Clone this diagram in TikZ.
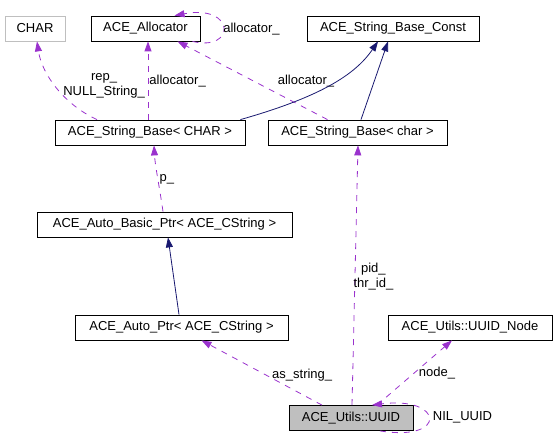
\documentclass[tikz,border=0pt]{standalone}
\usepackage{fontspec}
\setmainfont{Liberation Sans}
\usepackage{tikz}
\usetikzlibrary{arrows.meta, positioning, calc}
\definecolor{usecol}{HTML}{9A32CD}
\definecolor{inhcol}{HTML}{191970}
\definecolor{boxgray}{HTML}{BFBFBF}

\begin{document}
\begin{tikzpicture}[>={Triangle[length=10pt,width=7pt]}, x=1pt, y=-1pt,
  font=\fontsize{13}{15}\selectfont,
  box/.style={draw, line width=0.8pt, minimum height=25pt, inner sep=0pt},
  uses/.style={->, usecol, line width=0.8pt, dash pattern=on 6pt off 6pt},
  inherits/.style={->, inhcol, line width=0.8pt},
  lbl/.style={inner sep=0pt, align=center, text=black}]
  \useasboundingbox (0,0) rectangle (556,444);

  % Nodes
  \node[box, draw=boxgray, minimum width=60pt] (char) at (35,28.5) {CHAR};
  \node[box, minimum width=109pt] (alloc) at (145.5,28.5) {ACE\_Allocator};
  \node[box, minimum width=172pt] (sbconst) at (393,28.5) {ACE\_String\_Base\_Const};
  \node[box, minimum width=190pt] (sbCHAR) at (150,132.5) {ACE\_String\_Base< CHAR >};
  \node[box, minimum width=179pt] (sbchar) at (357.5,132.5) {ACE\_String\_Base< char >};
  \node[box, minimum width=255pt] (abptr) at (164.5,224.5) {ACE\_Auto\_Basic\_Ptr< ACE\_CString >};
  \node[box, minimum width=213pt] (aptr) at (181.5,327.5) {ACE\_Auto\_Ptr< ACE\_CString >};
  \node[box, minimum width=164pt] (unode) at (470,327.5) {ACE\_Utils::UUID\_Node};
  \node[box, fill=boxgray, minimum width=124pt] (uuid) at (351,418) {ACE\_Utils::UUID};

  % Usage arrows (dashed)
  \draw[uses] ([xshift=-53pt]sbCHAR.north) .. controls (65,105) and (42,75) .. ([xshift=2pt]char.south)
    node[lbl, pos=0.3, above right, xshift=-8pt, yshift=4pt] {rep\_\\NULL\_String\_};
  \draw[uses] ([xshift=-2pt]sbCHAR.north) -- ([xshift=2.5pt]alloc.south)
    node[lbl, midway, right, xshift=1pt, yshift=-1pt] {allocator\_};
  \draw[uses] ([xshift=47pt]alloc.south) .. controls (236,52) and (236,4) .. ([xshift=29pt]alloc.north)
    node[lbl, pos=0.5, right, xshift=0pt, yshift=-1pt] {allocator\_};
  \draw[uses] ([xshift=-30pt]sbchar.north) -- ([xshift=32pt]alloc.south)
    node[lbl, pos=0.15, above, yshift=20pt, xshift=1pt] {allocator\_};
  \draw[uses] ([xshift=-1.5pt]abptr.north) .. controls (160,190) and (155,165) .. ([xshift=4pt]sbCHAR.south)
    node[lbl, pos=0.45, right, xshift=1pt, yshift=2pt] {p\_};
  \draw[uses] ([xshift=-29pt]uuid.north) -- ([xshift=20pt]aptr.south)
    node[lbl, pos=0.45, above right, xshift=4pt, yshift=-6pt] {as\_string\_};
  \draw[uses] ([xshift=1pt]uuid.north) -- ([xshift=0.5pt]sbchar.south)
    node[lbl, pos=0.52, right, xshift=-2pt, yshift=-7pt] {pid\_\\thr\_id\_};
  \draw[uses] ([xshift=26pt]uuid.north) -- ([xshift=-18pt]unode.south)
    node[lbl, pos=0.5, right, xshift=4pt] {node\_};
  \draw[uses] ([xshift=29pt]uuid.south) .. controls (448,442) and (444,396) .. ([xshift=21pt]uuid.north)
    node[lbl, pos=0.5, right, xshift=4pt, yshift=1pt] {NIL\_UUID};

  % Inheritance arrows (solid)
  \draw[inherits] ([xshift=-5pt]sbCHAR.north east) .. controls (320,97) and (355,75) .. ([xshift=-15pt]sbconst.south);
  \draw[inherits] ([xshift=3.5pt]sbchar.north) -- ([xshift=-5pt]sbconst.south);
  \draw[inherits] ([xshift=-2.5pt]aptr.north) -- ([xshift=3.5pt]abptr.south);
\end{tikzpicture}
\end{document}
